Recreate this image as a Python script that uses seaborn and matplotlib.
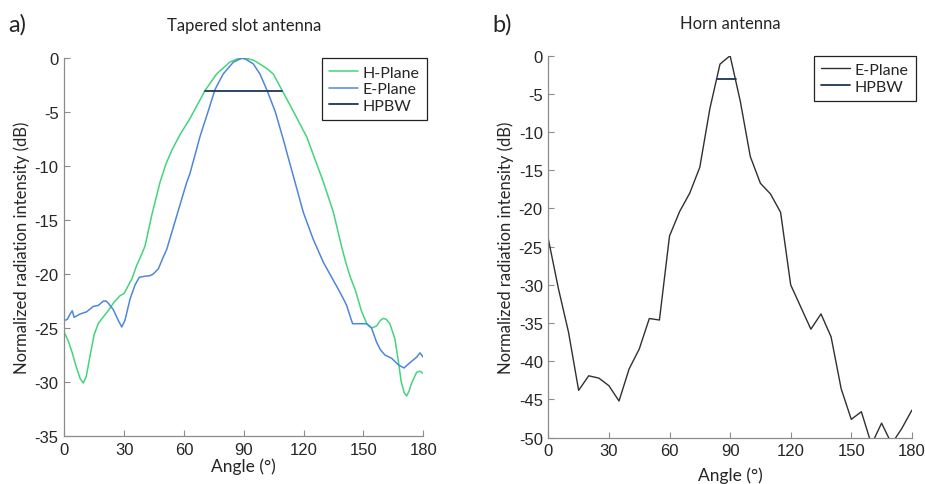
import numpy as np
import pandas as pd
import matplotlib
matplotlib.use("Agg")
import matplotlib.pyplot as plt
import seaborn as sns

# --- a) tapered slot antenna ---
h_angle = [0, 2, 4, 6, 8, 9.5, 11, 13, 15, 17, 19, 22, 25, 28, 30, 32, 34, 36.3, 38.5,
           40.5, 43.8, 48, 51, 54, 58, 63, 66.5, 70.6, 76.4, 83, 87, 91, 95, 98, 101.5,
           104.8, 109, 114.8, 121.6, 124, 127, 130, 135, 139, 141, 143.3, 146, 149,
           151.7, 154.2, 156.7, 158.5, 160, 161.5, 163.3, 165.8, 167.5, 169, 170.5,
           171.7, 173, 174.2, 176.7, 178.4, 180]
h_plane = [-25.4, -26.2, -27.3, -28.6, -29.7, -30.1, -29.5, -27.5, -25.6, -24.6, -24.1,
           -23.4, -22.6, -22.0, -21.8, -21.1, -20.4, -19.2, -18.3, -17.4, -14.6, -11.5,
           -9.8, -8.5, -7.1, -5.6, -4.4, -3.0, -1.46, -0.37, -0.05, 0.0, -0.2, -0.53,
           -0.95, -1.46, -2.9, -4.9, -7.3, -8.5, -10.0, -11.5, -14.3, -17.4, -18.8,
           -20.2, -21.5, -23.4, -24.6, -25.0, -24.8, -24.3, -24.1, -24.2, -24.6, -26.0,
           -28.0, -30.0, -31.0, -31.3, -30.8, -30.1, -29.1, -29.0, -29.2]

e_angle = [0, 1.5, 2.9, 4, 4.9, 6, 7.9, 11.2, 14.5, 17.1, 19.6, 21, 22.1, 24.6, 27.1,
           28.8, 30.4, 33, 35.5, 37.6, 40.5, 43, 44.6, 47.2, 49.7, 51.4, 56.4, 61.4,
           63, 66.4, 68, 72.2, 75.6, 79.7, 84.8, 89, 91, 94.8, 98.1, 101.5, 105.7,
           109.8, 112, 115, 119.9, 124.9, 129.9, 134.1, 137.4, 140, 141.6, 143.5, 144.6,
           148.3, 151.6, 154.1, 156.6, 158.5, 160.8, 164.2, 167.5, 170.4, 173.4, 176.7,
           178.4, 180]
e_plane = [-24.3, -24.2, -23.7, -23.4, -24.0, -23.9, -23.7, -23.5, -23.0, -22.9, -22.5,
           -22.5, -22.7, -23.3, -24.3, -24.9, -24.3, -22.3, -21.0, -20.3, -20.2, -20.15,
           -20.0, -19.5, -18.4, -17.7, -14.6, -11.5, -10.7, -8.4, -7.3, -4.9, -2.9,
           -1.46, -0.37, 0.0, -0.1, -0.53, -1.46, -2.9, -4.9, -7.5, -9.0, -11.0, -14.3,
           -16.8, -18.9, -20.3, -21.4, -22.3, -22.9, -24.0, -24.6, -24.6, -24.6, -25.0,
           -26.3, -27.0, -27.5, -27.8, -28.4, -28.7, -28.2, -27.7, -27.3, -27.7]

hpbw_a_angle = [70.6, 109.0]
hpbw_a_level = [-3, -3]

# --- b) horn antenna ---
horn_angle = list(range(0, 181, 5))
horn_e = [-24.0, -30.5, -36.2, -43.8, -41.9, -42.2, -43.2, -45.2, -41.0, -38.4, -34.4,
          -34.6, -23.6, -20.4, -18.0, -14.6, -6.9, -1.1, 0.0, -5.9, -13.2, -16.7, -18.1,
          -20.5, -30.0, -32.9, -35.8, -33.8, -36.8, -43.6, -47.6, -46.6, -50.9, -48.1,
          -50.8, -48.8, -46.4]

hpbw_b_angle = [83.3, 92.7]
hpbw_b_level = [-3, -3]

sns.set_style("ticks")
plt.rcParams['font.family'] = ['Liberation Sans', 'DejaVu Sans']
plt.rcParams['axes.unicode_minus'] = False

green = "#44d47e"
blue = "#4f86dc"
navy = "#1f3457"
dark = "#303030"
spine_col = "#8c8c8c"

fig = plt.figure(figsize=(9.25, 4.85), dpi=100)
ax1 = fig.add_axes([0.0695, 0.099, 0.388, 0.779])
ax2 = fig.add_axes([0.5928, 0.0955, 0.393, 0.7876])

sns.lineplot(x=h_angle, y=h_plane, ax=ax1, color=green, lw=1.1, label="H-Plane")
sns.lineplot(x=e_angle, y=e_plane, ax=ax1, color=blue, lw=1.1, label="E-Plane")
sns.lineplot(x=hpbw_a_angle, y=hpbw_a_level, ax=ax1, color=navy, lw=1.3, label="HPBW")

sns.lineplot(x=horn_angle, y=horn_e, ax=ax2, color=dark, lw=1.0, label="E-Plane")
sns.lineplot(x=hpbw_b_angle, y=hpbw_b_level, ax=ax2, color=navy, lw=1.3, label="HPBW")

label_font = ['Lato', 'DejaVu Sans']

for ax, ymin, title, xlpad in [(ax1, -35, "Tapered slot antenna", 1),
                               (ax2, -50, "Horn antenna", 6)]:
    ax.set_xlim(0, 180)
    ax.set_ylim(ymin, 0)
    ax.set_xticks(range(0, 181, 30))
    ax.set_yticks(range(ymin, 1, 5))
    ax.tick_params(direction="in", length=4, width=0.8, color=spine_col,
                   labelsize=12, labelcolor="#262626", pad=4)
    for s in ["top", "right"]:
        ax.spines[s].set_visible(False)
    for s in ["left", "bottom"]:
        ax.spines[s].set_color(spine_col)
        ax.spines[s].set_linewidth(0.9)
    ax.set_xlabel("Angle (°)", family=label_font, fontsize=12.5, labelpad=xlpad)
    ax.set_ylabel("Normalized radiation intensity (dB)", family=label_font,
                  fontsize=12, labelpad=3)
    ax.set_title(title, family=label_font, fontsize=12, pad=20)
    leg = ax.legend(loc="upper right", bbox_to_anchor=(1.01, 1.0), frameon=True,
                    fancybox=False, edgecolor="#222222", framealpha=1,
                    borderaxespad=0,
                    prop={'family': label_font, 'size': 11.5}, handlelength=1.8,
                    handletextpad=0.3, borderpad=0.45, labelspacing=0.15)
    leg.get_frame().set_linewidth(0.9)

fig.text(0.009, 0.948, "a)", fontsize=17, family=label_font, va="center")
fig.text(0.532, 0.948, "b)", fontsize=17, family=label_font, va="center")

fig.savefig("out.png", dpi=100)
